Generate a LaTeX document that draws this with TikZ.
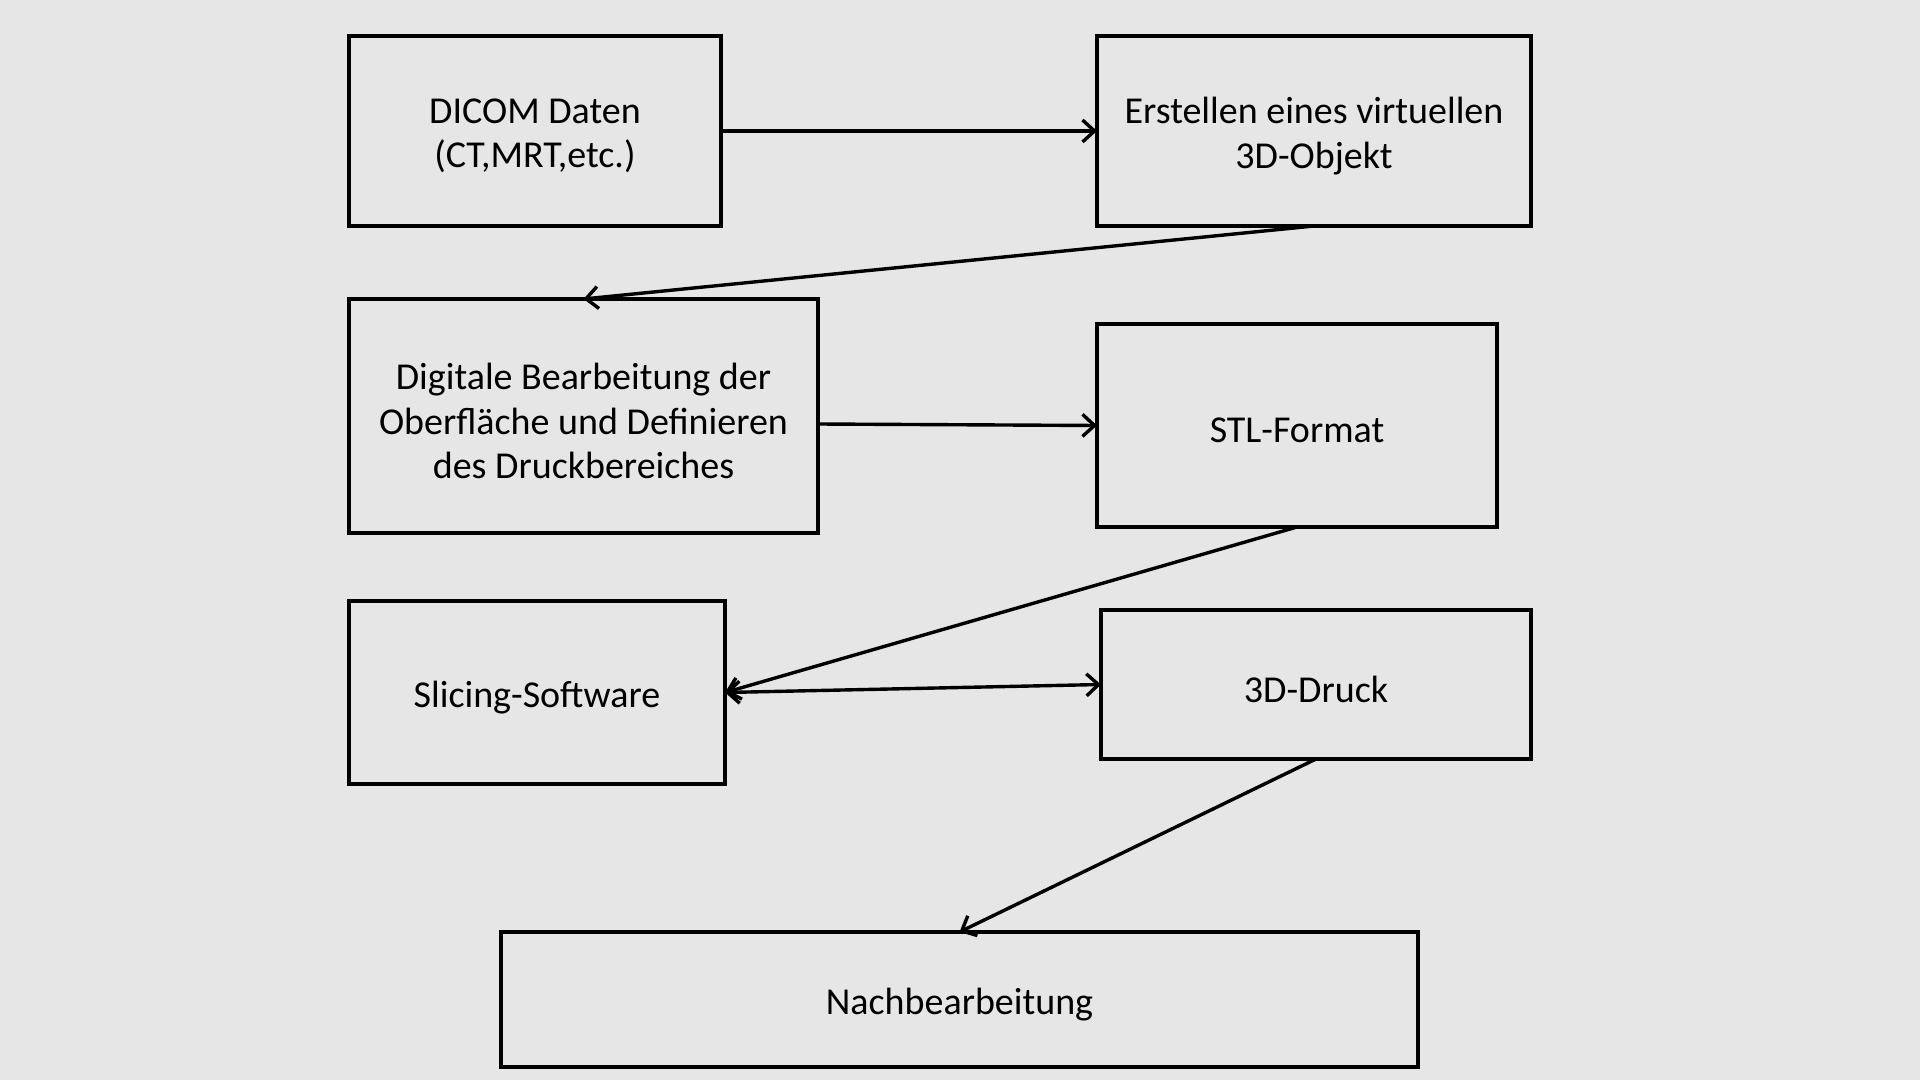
\documentclass[tikz,border=0pt]{standalone}
\usepackage{fontspec}
\setmainfont{Carlito}
\usetikzlibrary{arrows.meta,calc}
\definecolor{bgcol}{HTML}{E6E6E6}
\tikzset{
  box/.style={draw=black, line width=1.7pt, inner sep=0pt, outer sep=0pt},
  txt/.style={inner sep=0pt, align=center, font=\fontsize{19}{22.3}\selectfont},
  conn/.style={line width=1.7pt, -{Straight Barb[length=6pt,width=11pt,line width=1.7pt]}},
  dconn/.style={line width=1.7pt, {Straight Barb[length=6pt,width=11pt,line width=1.7pt]}-{Straight Barb[length=6pt,width=11pt,line width=1.7pt]}}
}
\begin{document}
\begin{tikzpicture}[x=0.5pt,y=-0.5pt]
\fill[bgcol] (0,0) rectangle (1920,1080);
\useasboundingbox (0,0) rectangle (1920,1080);
\node[box, minimum width=186pt, minimum height=95pt] (dicom) at (535,131) {};
\node[box, minimum width=217pt, minimum height=95pt] (erst) at (1314,131) {};
\node[box, minimum width=234.5pt, minimum height=117pt] (dig) at (583.5,416) {};
\node[box, minimum width=200pt, minimum height=101.5pt] (stl) at (1297,425.5) {};
\node[box, minimum width=188pt, minimum height=91.5pt] (slic) at (537,692.5) {};
\node[box, minimum width=215pt, minimum height=74.5pt] (druck) at (1316,684.5) {};
\node[box, minimum width=458.5pt, minimum height=67.5pt] (nach) at (959.5,999.5) {};
\node[txt] (tdicom) at ($(dicom.center)+(0,5)$) {DICOM Daten\\(CT,MRT,etc.)};
\node[txt] (terst) at ($(erst.center)+(0,5)$) {Erstellen eines virtuellen\\3D-Objekt};
\node[txt] (tdig) at ($(dig.center)+(0,5)$) {Digitale Bearbeitung der\\Oberfläche und Definieren\\des Druckbereiches};
\node[txt] (tstl) at ($(stl.center)+(0,5)$) {STL-Format};
\node[txt] (tslic) at ($(slic.center)+(0,5)$) {Slicing-Software};
\node[txt] (tdruck) at ($(druck.center)+(0,5)$) {3D-Druck};
\node[txt] (tnach) at ($(nach.center)+(0,5)$) {Nachbearbeitung};
\draw[conn] (dicom.east) -- (erst.west);
\draw[conn] (erst.south) -- (dig.north);
\draw[conn] ($(dig.east)+(0,8)$) -- (stl.west);
\draw[conn] (stl.south) -- (slic.east);
\draw[dconn] (slic.east) -- (druck.west);
\draw[conn] (druck.south) -- (nach.north);
\end{tikzpicture}
\end{document}
